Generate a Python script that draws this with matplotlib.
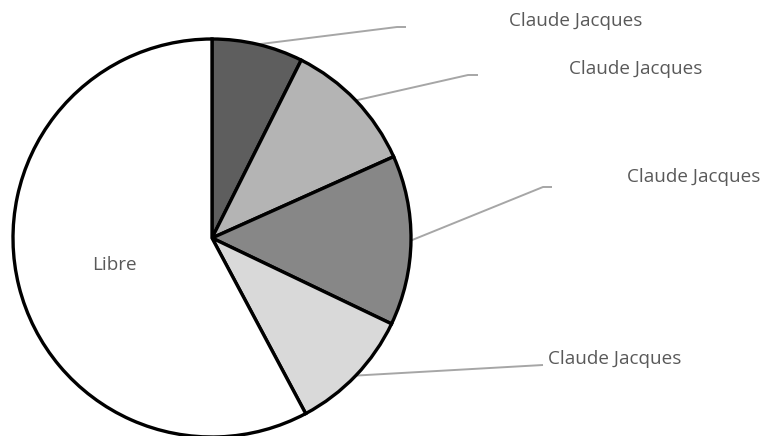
import numpy as np
import matplotlib
matplotlib.use("Agg")
import matplotlib.pyplot as plt

# part values (percent), read clockwise from 12 o'clock
parts = [7.4, 10.9, 13.8, 10.1, 57.8]
labels = ["Claude Jacques", "Claude Jacques", "Claude Jacques", "Claude Jacques", "Libre"]
colors = ["#5e5e5e", "#b4b4b4", "#878787", "#d9d9d9", "#ffffff"]

W, H = 766, 436
cx, cy, R = 212, 238, 199  # pixel layout of the pie

# label layout in pixels: (elbow x, elbow y, end x, text x, text y)
label_pos = [
    (397, 27, 406, 509, 21),
    (468, 75, 478, 569, 69),
    (543, 187, 552, 627, 177),
    (543, 365, 543, 548, 359),
]

fig = plt.figure(figsize=(W / 100, H / 100), dpi=100)
ax = fig.add_axes([0, 0, 1, 1])

def fy(y):
    return H - y

wedges, _ = ax.pie(parts, colors=colors, startangle=90, counterclock=False,
                   center=(cx, fy(cy)), radius=R, frame=True,
                   wedgeprops=dict(edgecolor="black", linewidth=2.4))
ax.set_xlim(0, W)
ax.set_ylim(0, H)
ax.set_aspect("equal")
ax.axis("off")

txt = dict(family="Open Sans", fontsize=13.6, color="#595959")

for w, lab, (ex, ey, endx, tx, ty) in zip(wedges[:4], labels[:4], label_pos):
    mid = np.deg2rad((w.theta1 + w.theta2) / 2)
    sx = cx + R * np.cos(mid)
    sy = fy(cy) + R * np.sin(mid)
    ax.plot([sx, ex, endx], [sy, fy(ey), fy(ey)], color="#a6a6a6", linewidth=1.4,
            solid_capstyle="butt", zorder=0.5)
    ax.text(tx, fy(ty), lab, va="center", ha="left", **txt)

ax.text(114, fy(265), labels[4], va="center", ha="center", **txt)

plt.savefig("out.png", dpi=100)
